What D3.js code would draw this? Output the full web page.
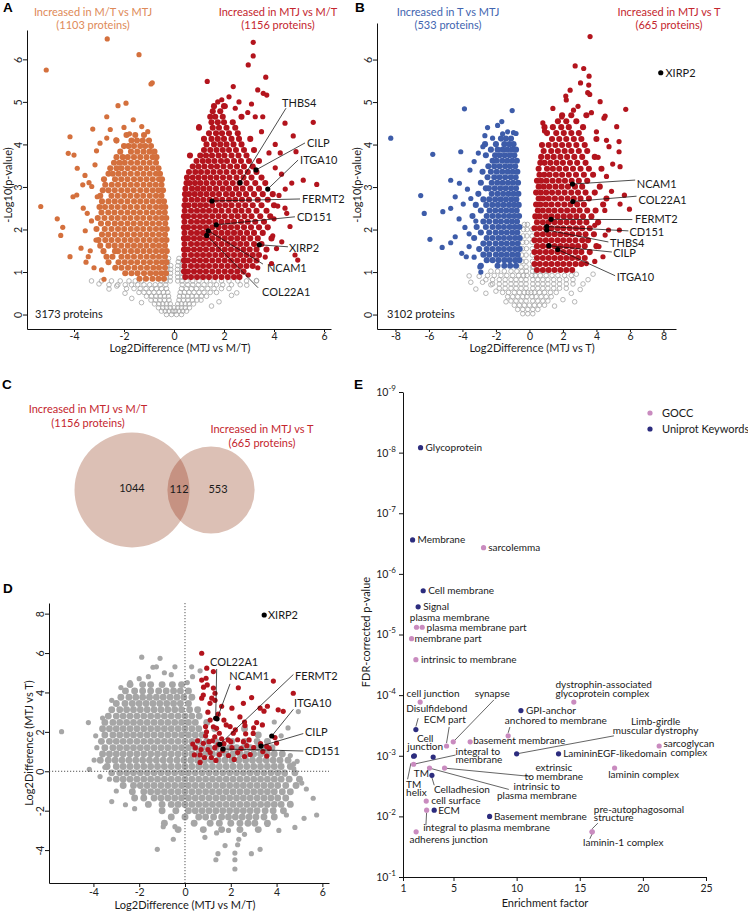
<!DOCTYPE html>
<html><head><meta charset="utf-8">
<script src="https://cdn.jsdelivr.net/npm/d3@7"></script>
<style>body{margin:0;background:#fff}</style>
</head><body>
<script>
// ================= DATA =================
// ---- Panel A: volcano MTJ vs M/T  (rows: [y, x1, x2, ...]) ----
const aXTicks = [-4,-2,0,2,4,6];
const aYTicks = [0,1,2,3,4,5,6];
const aGreyRows = [
[0.0,-0.3,-0.1,0.1,0.3],
[0.08,-0.5,-0.35,-0.2,-0.05,0.05,0.2,0.35,0.5],
[0.16,-0.62,-0.45,-0.3,-0.15,0,0.15,0.3,0.45,0.62],
[0.25,-0.78,-0.6,-0.45,-0.3,-0.15,0.15,0.3,0.45,0.6,0.78],
[0.34,-0.92,-0.74,-0.56,-0.38,-0.2,0.2,0.38,0.56,0.74,0.92,1.08],
[0.43,-1.1,-0.9,-0.72,-0.55,-0.38,-0.22,0.22,0.38,0.55,0.72,0.9,1.1,1.3],
[0.52,-1.4,-1.2,-1.0,-0.8,-0.6,-0.42,-0.25,0.25,0.42,0.6,0.8,1.0,1.2,1.45,1.7],
[0.61,-1.9,-1.6,-1.35,-1.12,-0.9,-0.7,-0.5,-0.3,0.3,0.5,0.7,0.9,1.12,1.35,1.6,1.9,2.2],
[0.7,-2.6,-2.25,-1.95,-1.7,-1.45,-1.2,-0.97,-0.75,-0.55,-0.33,0.33,0.55,0.75,0.97,1.2,1.45,1.7,1.95,2.3,2.65],
[0.79,-3.3,-2.9,-2.5,-2.15,-1.8,-1.55,-1.3,-0.52,-0.32,-0.15,0.15,0.32,0.52,0.75,1.0,1.3,1.6,1.9,2.2,2.55,2.9,3.3],
[0.88,-0.3,-0.15,0.15,0.32],
[0.97,-0.3,-0.14,0.14,0.32],
[1.06,-0.28,-0.13,0.14,0.33],
[1.15,-0.27,-0.13,0.15,0.34],
[1.24,-0.25,0.17,0.35],
[1.32,-0.22,0.2]
];
const aGreyOut = [[-2.29,0.67],[-1.96,0.5],[-1.69,0.38],[2.51,0.51],[2.91,0.69],[2.3,0.45],[1.8,0.3],[-3.0,0.72],[3.3,0.8],[-2.6,0.6],[-1.3,0.28],[1.5,0.2]];
const aOrangeRows = [
[0.84,-1.38,-1.12,-0.86,-0.62,-0.4],
[0.97,-1.95,-1.7,-1.46,-1.2,-0.95,-0.72,-0.5,-0.32],
[1.1,-2.35,-2.1,-1.84,-1.58,-1.33,-1.08,-0.83,-0.6,-0.36],
[1.23,-2.62,-2.22,-1.97,-1.72,-1.47,-1.21,-0.96,-0.71,-0.48,-0.3],
[1.36,-2.7,-2.46,-2.1,-1.85,-1.6,-1.34,-1.09,-0.84,-0.6,-0.36],
[1.49,-2.82,-2.36,-2.24,-1.98,-1.72,-1.47,-1.22,-0.97,-0.72,-0.48,-0.29],
[1.62,-2.95,-2.62,-2.37,-2.11,-1.85,-1.6,-1.35,-1.1,-0.84,-0.6,-0.36],
[1.75,-3.02,-2.75,-2.5,-2.24,-1.98,-1.73,-1.48,-1.22,-0.97,-0.72,-0.48,-0.3],
[1.88,-2.88,-2.63,-2.37,-2.11,-1.86,-1.6,-1.35,-1.1,-0.85,-0.6,-0.36],
[2.01,-3.1,-2.77,-2.5,-2.24,-1.99,-1.73,-1.48,-1.23,-0.97,-0.72,-0.48,-0.29],
[2.14,-2.92,-2.64,-2.37,-2.12,-1.86,-1.61,-1.35,-1.1,-0.85,-0.6,-0.35],
[2.27,-3.05,-2.78,-2.5,-2.25,-1.99,-1.74,-1.48,-1.23,-0.97,-0.72,-0.48,-0.31],
[2.4,-2.9,-2.63,-2.38,-2.12,-1.86,-1.61,-1.36,-1.1,-0.85,-0.6,-0.37],
[2.53,-2.98,-2.76,-2.5,-2.25,-1.99,-1.74,-1.48,-1.22,-0.97,-0.72,-0.5,-0.35],
[2.66,-2.88,-2.62,-2.37,-2.12,-1.86,-1.6,-1.35,-1.1,-0.85,-0.6,-0.4],
[2.79,-2.95,-2.5,-2.25,-1.99,-1.74,-1.48,-1.23,-0.97,-0.72,-0.5],
[2.92,-2.85,-2.62,-2.37,-2.11,-1.86,-1.61,-1.35,-1.1,-0.85,-0.62,-0.44],
[3.05,-2.75,-2.49,-2.24,-1.98,-1.73,-1.48,-1.22,-0.97,-0.73,-0.5],
[3.18,-2.8,-2.36,-2.11,-1.86,-1.6,-1.35,-1.1,-0.85,-0.6,-0.48],
[3.31,-2.62,-2.45,-2.22,-1.98,-1.73,-1.47,-1.22,-0.97,-0.72,-0.56],
[3.44,-2.55,-2.3,-2.1,-1.85,-1.6,-1.35,-1.1,-0.85,-0.62],
[3.57,-2.4,-2.18,-1.97,-1.72,-1.47,-1.22,-0.97,-0.72],
[3.7,-2.3,-2.05,-1.85,-1.6,-1.35,-1.1,-0.85,-0.7],
[3.83,-2.15,-1.72,-1.47,-1.22,-0.98,-0.78],
[3.96,-2.0,-1.82,-1.6,-1.35,-1.15,-0.92],
[4.09,-2.3,-1.7,-1.48,-1.25,-1.0],
[4.22,-1.9,-1.55,-1.2]
];
const aOrangeOut = [[-2.67,6.48],[-1.4,6.11],[-5.11,5.75],[-0.87,5.45],[-0.92,5.42],[-2.24,4.91],[-1.92,4.97],[-2.69,4.65],[-3.25,4.36],[-4.16,4.18],[-4.23,3.79],[-4.0,3.75],[-3.87,3.44],[-3.56,3.27],[-4.04,2.77],[-3.89,2.81],[-5.33,2.54],[-4.67,2.25],[-4.45,2.05],[-4.53,1.86],[-4.16,1.36],[-3.72,1.56],[-3.55,1.97],[-3.52,1.23],[-2.8,0.83],[-3.43,1.36],[-3.63,2.5],[-3.47,2.38],[-3.16,3.52],[-3.29,3.01],[-3.07,2.77],[-2.96,4.03],[-2.69,4.15],[-1.63,4.58],[-1.29,4.42],[-2.32,4.11],[-3.12,1.75],[-3.3,2.2],[-3.35,1.5],[-3.2,1.1],[-2.9,1.05],[-2.0,4.4],[-1.05,4.3],[-3.4,3.1],[-3.1,3.85],[-2.55,4.35],[-1.78,4.25],[-3.65,3.05]];
const aRedRows = [
[0.88,0.45,0.68,0.92,1.16,1.4,1.65,1.9,2.15,2.4,2.62],
[1.01,0.4,0.56,0.8,1.04,1.28,1.53,1.78,2.03,2.28,2.53,2.78],
[1.14,0.42,0.68,0.92,1.16,1.4,1.65,1.9,2.15,2.4,2.65,2.9,3.15],
[1.27,0.4,0.56,0.8,1.04,1.28,1.53,1.78,2.03,2.28,2.53,2.78,3.03,3.3],
[1.4,0.42,0.68,0.92,1.16,1.4,1.65,1.9,2.15,2.4,2.65,2.9,3.15,3.4],
[1.53,0.4,0.56,0.8,1.04,1.28,1.53,1.78,2.03,2.28,2.53,2.78,3.03,3.3,3.7],
[1.66,0.42,0.68,0.92,1.16,1.4,1.65,1.9,2.15,2.4,2.65,2.9,3.2,3.5],
[1.79,0.4,0.56,0.8,1.04,1.28,1.53,1.78,2.03,2.28,2.53,2.78,3.05,3.35,3.9],
[1.92,0.42,0.68,0.92,1.16,1.4,1.65,1.9,2.15,2.4,2.65,2.92,3.2,3.55],
[2.05,0.4,0.56,0.8,1.04,1.28,1.53,1.78,2.03,2.28,2.53,2.8,3.08,3.4,3.75],
[2.18,0.42,0.68,0.92,1.16,1.4,1.65,1.9,2.15,2.4,2.68,2.95,3.25,3.6],
[2.31,0.4,0.56,0.8,1.04,1.28,1.53,1.78,2.03,2.3,2.55,2.82,3.1,3.45,3.85],
[2.44,0.43,0.68,0.92,1.16,1.4,1.65,1.9,2.18,2.45,2.7,2.98,3.3,3.7],
[2.57,0.42,0.58,0.82,1.05,1.28,1.53,1.8,2.05,2.3,2.58,2.85,3.15,3.5,4.0],
[2.7,0.45,0.7,0.93,1.17,1.42,1.68,1.93,2.2,2.45,2.72,3.0,3.35,3.75],
[2.83,0.44,0.6,0.83,1.06,1.3,1.55,1.8,2.08,2.33,2.6,2.88,3.2,3.55,3.95],
[2.96,0.46,0.72,0.95,1.18,1.42,1.68,1.95,2.2,2.48,2.75,3.05,3.4],
[3.09,0.5,0.62,0.84,1.06,1.3,1.56,1.82,2.08,2.35,2.62,2.9,3.25,3.65],
[3.22,0.52,0.75,0.98,1.22,1.46,1.7,1.96,2.22,2.5,2.78,3.1,3.5],
[3.35,0.6,0.85,1.08,1.33,1.58,1.84,2.1,2.38,2.65,2.95,3.3],
[3.48,0.75,0.98,1.22,1.48,1.72,1.98,2.25,2.52,2.8,3.15],
[3.61,0.9,1.15,1.38,1.62,1.88,2.12,2.4,2.68,3.0,3.4],
[3.74,0.64,1.05,1.28,1.52,1.78,2.02,2.3,2.58,2.9],
[3.87,1.2,1.45,1.7,1.95,2.2,2.48,2.8,3.2],
[4.0,1.3,1.6,1.85,2.1,2.38,2.7],
[4.13,1.2,1.5,1.75,2.0,2.3,2.6,3.05],
[4.26,1.4,1.68,1.92,2.2,2.55],
[4.39,1.0,1.55,1.8,2.1,2.45],
[4.52,1.5,1.75,2.0,2.35],
[4.65,1.45,1.65,1.95,2.7],
[4.78,1.55,1.85],
[4.9,1.6,2.0]
];
const aRedOut = [[3.17,6.4],[3.17,6.08],[2.97,5.87],[1.33,5.48],[3.67,5.58],[2.37,5.36],[3.35,5.28],[3.57,5.2],[3.71,5.16],[2.2,5.12],[1.91,5.05],[5.57,4.52],[4.44,4.5],[4.77,4.2],[4.88,3.83],[5.17,3.16],[5.71,3.06],[4.71,3.09],[4.44,2.5],[4.51,2.38],[4.64,2.07],[4.31,1.71],[4.84,1.4],[4.95,1.28],[1.0,4.42],[2.97,0.93],[3.9,1.2],[4.1,1.55],[4.0,2.25],[4.2,2.8],[4.3,3.3],[3.8,3.8],[4.05,4.0],[3.5,4.3],[3.25,4.65],[2.95,4.75],[3.1,4.95],[2.6,5.0],[2.45,4.85],[3.55,4.65],[4.05,3.45],[4.45,2.95],[4.15,2.55],[3.95,1.85],[3.65,1.35],[3.35,1.1],[4.25,3.8],[1.75,5.0],[2.05,4.9]];
const aNamed = [["THBS4",2.64,3.10],["CILP",3.28,3.40],["ITGA10",3.75,2.95],["FERMT2",1.52,2.67],["CD151",1.69,2.11],["XIRP2",3.41,1.64],["NCAM1",1.37,1.97],["COL22A1",1.31,1.86]];

// ---- Panel B: volcano MTJ vs T ----
const bXTicks = [-8,-6,-4,-2,0,2,4,6,8];
const bYTicks = [0,1,2,3,4,5,6];
const bGreyRows = [
[0.02,-0.4,-0.1,0.2],
[0.12,-0.7,-0.4,-0.1,0.2,0.5],
[0.22,-0.9,-0.6,-0.3,0,0.3,0.6,0.9],
[0.32,-1.1,-0.8,-0.5,-0.2,0.2,0.5,0.8,1.1],
[0.42,-1.3,-1.0,-0.7,-0.4,-0.15,0.15,0.4,0.7,1.0,1.3],
[0.52,-1.6,-1.25,-0.9,-0.6,-0.3,-0.1,0.1,0.3,0.6,0.9,1.25,1.6],
[0.62,-1.8,-1.45,-1.1,-0.8,-0.5,-0.2,0.2,0.5,0.8,1.1,1.45,1.8,2.2],
[0.72,-2.2,-1.8,-1.45,-1.1,-0.8,-0.5,-0.2,0.2,0.5,0.8,1.1,1.45,1.8,2.2,2.6],
[0.82,-2.6,-2.2,-1.8,-1.45,-1.1,-0.8,-0.5,-0.2,0.2,0.5,0.8,1.1,1.45,1.8,2.2,2.6],
[0.92,-2.5,-2.1,-1.7,-1.35,-1.0,-0.65,-0.35,-0.15,0.15,0.35,0.65,1.0,1.35,1.7,2.1,2.5],
[1.02,-2.3,-1.9,-1.5,-1.1,-0.75,-0.45,-0.18,0.18,0.4,0.75,1.1],
[1.12,-0.5,-0.2,0.18,0.25],
[1.25,-0.45,-0.2,0.18],
[1.4,-0.45,-0.2,0.17],
[1.55,-0.42,-0.18,0.17],
[1.7,-0.4,-0.18,0.16],
[1.85,-0.38,-0.15,0.16],
[2.0,-0.35,-0.14,0.15],
[2.12,-0.3,-0.12]
];
const bGreyOut = [[-3.6,0.91],[-3.5,0.76],[-3.0,0.9],[-2.8,0.76],[-2.3,0.7],[-2.0,0.55],[-1.4,0.3],[1.5,0.2],[2.5,0.5],[3.03,0.59],[3.5,0.82],[2.8,0.95],[3.2,0.72],[2.0,0.35],[-3.2,0.6],[-2.6,0.5],[2.7,0.3],[3.8,0.95]];
const bBlueRows = [
[1.15,-2.9,-1.9,-1.5,-1.15,-0.8],
[1.28,-2.55,-2.2,-1.85,-1.5,-1.18,-0.85,-0.6],
[1.41,-2.75,-2.4,-2.0,-1.68,-1.35,-1.02,-0.7],
[1.54,-3.0,-2.55,-2.2,-1.85,-1.52,-1.18,-0.86,-0.58],
[1.67,-2.75,-2.4,-2.02,-1.68,-1.35,-1.02,-0.7],
[1.8,-3.3,-2.55,-2.2,-1.85,-1.52,-1.18,-0.86,-0.58],
[1.93,-2.9,-2.4,-2.02,-1.68,-1.35,-1.02,-0.72],
[2.06,-3.15,-2.6,-2.2,-1.85,-1.52,-1.18,-0.88,-0.6],
[2.19,-2.75,-2.4,-2.02,-1.7,-1.35,-1.04,-0.74],
[2.32,-3.4,-2.55,-2.2,-1.86,-1.52,-1.2,-0.9,-0.62],
[2.45,-2.9,-2.38,-2.04,-1.7,-1.38,-1.06,-0.76],
[2.58,-3.2,-2.58,-2.22,-1.88,-1.55,-1.22,-0.92,-0.64],
[2.71,-2.75,-2.4,-2.05,-1.72,-1.4,-1.08,-0.78],
[2.84,-3.05,-2.25,-1.9,-1.57,-1.25,-0.95,-0.66],
[2.97,-2.6,-2.42,-2.07,-1.74,-1.42,-1.1,-0.8],
[3.1,-2.9,-2.25,-1.92,-1.6,-1.28,-0.98,-0.68],
[3.23,-2.5,-2.1,-1.78,-1.45,-1.12,-0.82],
[3.36,-2.8,-2.3,-1.95,-1.62,-1.3,-1.0,-0.72],
[3.49,-2.45,-2.1,-1.78,-1.45,-1.15,-0.85],
[3.62,-2.2,-1.95,-1.62,-1.32,-1.02,-0.75],
[3.75,-2.6,-2.05,-1.78,-1.48,-1.18,-0.9],
[3.88,-2.3,-1.9,-1.6,-1.32,-1.05,-0.8],
[4.01,-2.65,-2.0,-1.5,-1.2,-0.95],
[4.14,-1.7,-1.4,-1.1]
];
const bBlueOut = [[-8.28,4.15],[-3.88,4.84],[-1.03,4.8],[-1.65,4.54],[-5.77,3.77],[-4.1,3.83],[-2.66,4.21],[-2.78,3.95],[-1.6,4.25],[-1.3,4.3],[-0.95,4.28],[-0.8,4.26],[-6.49,2.8],[-6.28,2.38],[-5.17,2.42],[-4.7,3.16],[-4.18,3.09],[-5.94,1.77],[-5.21,1.58],[-4.7,2.5],[-4.43,2.77],[-3.5,2.73],[-3.95,2.6],[-3.7,2.95],[-4.7,1.69],[-4.43,1.83],[-4.04,1.44],[-3.77,1.36],[-3.6,1.6],[-2.96,1.12],[-2.9,1.0],[-3.55,3.4],[-3.3,3.6],[-3.05,3.8],[-3.2,2.2],[-3.85,2.05],[-3.6,1.9],[-4.2,2.25],[-3.3,1.35],[-2.5,4.4],[-2.2,4.15],[-1.9,4.45]];
const bRedRows = [
[1.05,0.45,0.8,1.15,1.5,1.85,2.2,2.55],
[1.19,0.3,0.62,0.98,1.32,1.68,2.02,2.38,2.75,3.1],
[1.33,0.45,0.8,1.15,1.5,1.85,2.2,2.55,2.9,3.3],
[1.47,0.3,0.62,0.98,1.32,1.68,2.02,2.38,2.75,3.1,3.6],
[1.61,0.45,0.8,1.15,1.5,1.85,2.2,2.55,2.9,3.3,4.0],
[1.75,0.3,0.62,0.98,1.32,1.68,2.02,2.38,2.75,3.15,3.5],
[1.89,0.45,0.8,1.15,1.5,1.85,2.2,2.55,2.95,3.35,3.85],
[2.03,0.3,0.62,0.98,1.32,1.68,2.02,2.4,2.78,3.15,3.6],
[2.17,0.45,0.8,1.15,1.5,1.85,2.22,2.6,3.0,3.4,4.1],
[2.31,0.35,0.62,0.98,1.32,1.68,2.05,2.42,2.8,3.2,3.7],
[2.45,0.5,0.8,1.15,1.5,1.88,2.25,2.62,3.0,3.45,3.95],
[2.59,0.4,0.65,0.98,1.32,1.7,2.08,2.45,2.85,3.25,4.4],
[2.73,0.55,0.82,1.15,1.52,1.9,2.28,2.65,3.05,3.55,4.6],
[2.87,0.4,0.68,1.0,1.35,1.72,2.1,2.5,2.9,3.35,3.9],
[3.01,0.55,0.85,1.18,1.55,1.92,2.3,2.72,3.15,4.2],
[3.15,0.45,0.7,1.02,1.38,1.75,2.12,2.52,2.95,3.45],
[3.29,0.6,0.88,1.2,1.58,1.95,2.35,2.78,3.25,3.8],
[3.43,0.55,1.05,1.4,1.78,2.18,2.6,3.05,3.55,4.3],
[3.57,0.65,0.9,1.25,1.62,2.0,2.42,2.85,3.35],
[3.71,0.7,1.08,1.45,1.85,2.25,2.68,3.15,3.9],
[3.85,0.85,1.3,1.7,2.1,2.5,2.95,3.45],
[3.99,0.75,1.15,1.55,1.95,2.35,2.8,3.3],
[4.13,1.35,1.78,2.2,2.65,3.1,4.0],
[4.27,1.05,1.6,2.05,2.5,2.95],
[4.41,0.9,1.4,1.9,2.35,3.2],
[4.55,1.7,2.2,2.8],
[4.69,1.95,2.5,3.4]
];
const bRedOut = [[3.62,6.54],[2.73,5.85],[3.24,5.79],[3.56,5.61],[3.54,5.4],[2.43,5.28],[3.48,5.22],[3.6,5.18],[2.17,5.14],[2.2,5.05],[2.63,4.81],[4.22,5.01],[5.75,4.83],[4.52,4.67],[4.45,4.62],[5.21,4.42],[0.8,4.51],[0.9,4.32],[1.93,4.65],[5.35,4.07],[5.35,3.83],[5.41,3.48],[4.97,3.54],[5.67,2.81],[5.97,2.48],[5.41,2.6],[4.72,1.99],[5.37,1.99],[4.52,1.87],[4.39,1.36],[3.4,1.2],[4.0,4.3],[4.6,4.1],[3.7,4.75],[4.1,3.7],[4.6,3.25],[4.9,2.9],[4.5,2.45],[3.9,2.1],[4.15,1.6],[3.9,1.25],[2.9,4.9],[1.4,4.85],[3.05,5.45],[4.75,3.95]];
const bNamed = [["XIRP2",7.84,5.69],["NCAM1",2.57,3.07],["COL22A1",2.59,2.66],["FERMT2",1.29,2.24],["CD151",1.03,2.07],["THBS4",1.03,1.99],["CILP",1.16,1.62],["ITGA10",1.69,1.53]];

// ---- Panel C: Venn ----
const vennSetNames = ["Increased in MTJ vs M/T","Increased in MTJ vs T"];
const vennSetSizes = [1156, 665];
const vennRegionCounts = [1044, 112, 553];

// ---- Panel D: MTJ vs M/T (x) against MTJ vs T (y) ----
const dXTicks = [-4,-2,0,2,4,6];
const dYTicks = [-4,-2,0,2,4,6,8];
const dGreyRows = [
[4.4,-2.4,-1.85,-1.5,-1.0,-0.55,-0.15],
[4.08,-2.6,-2.2,-1.85,-1.5,-1.15,-0.82,-0.5,-0.2,0.15],
[3.76,-2.8,-2.45,-2.15,-1.85,-1.55,-1.25,-0.95,-0.65,-0.35,-0.05,0.3],
[3.44,-3.0,-2.62,-2.3,-2.0,-1.7,-1.4,-1.1,-0.8,-0.5,-0.2,0.15],
[3.12,-3.2,-2.85,-2.55,-2.25,-1.95,-1.65,-1.35,-1.05,-0.75,-0.45,-0.15,0.2,0.55],
[2.8,-3.35,-3.0,-2.7,-2.4,-2.1,-1.8,-1.5,-1.2,-0.9,-0.6,-0.3,0.0,0.3,0.62],
[2.48,-3.5,-3.15,-2.85,-2.55,-2.25,-1.95,-1.65,-1.35,-1.05,-0.75,-0.45,-0.15,0.15,0.45,0.95],
[2.16,-3.6,-3.3,-3.0,-2.7,-2.4,-2.1,-1.8,-1.5,-1.2,-0.9,-0.6,-0.3,0.0,0.3,0.6,1.3,2.6],
[1.84,-3.5,-3.15,-2.85,-2.55,-2.25,-1.95,-1.65,-1.35,-1.05,-0.75,-0.45,-0.15,0.15,0.45,0.75,3.2],
[1.52,-3.65,-3.3,-3.0,-2.7,-2.4,-2.1,-1.8,-1.5,-1.2,-0.9,-0.6,-0.3,0.0,0.3,0.6,0.95,1.35,2.05,2.6,3.15,3.6],
[1.2,-3.5,-3.15,-2.85,-2.55,-2.25,-1.95,-1.65,-1.35,-1.05,-0.75,-0.45,-0.15,0.15,0.45,0.75,1.05,1.35,1.65,1.95,2.25,2.55,2.85,3.15,3.45,3.8],
[0.88,-3.6,-3.3,-3.0,-2.7,-2.4,-2.1,-1.8,-1.5,-1.2,-0.9,-0.6,-0.3,0.0,0.3,0.6,0.9,1.2,1.5,1.8,2.1,2.4,2.7,3.0,3.3,3.6,3.9,4.25],
[0.56,-3.7,-3.35,-3.05,-2.75,-2.45,-2.15,-1.85,-1.55,-1.25,-0.95,-0.65,-0.35,-0.05,0.25,0.55,0.85,1.15,1.45,1.75,2.05,2.35,2.65,2.95,3.25,3.55,3.85,4.15,4.5],
[0.24,-3.4,-3.0,-2.7,-2.4,-2.1,-1.8,-1.5,-1.2,-0.9,-0.6,-0.3,0.0,0.3,0.6,0.9,1.2,1.5,1.8,2.1,2.4,2.7,3.0,3.3,3.6,3.9,4.2,4.6],
[-0.08,-3.2,-2.85,-2.55,-2.25,-1.95,-1.65,-1.35,-1.05,-0.75,-0.45,-0.15,0.15,0.45,0.75,1.05,1.35,1.65,1.95,2.25,2.55,2.85,3.15,3.45,3.75,4.05,4.35,4.8],
[-0.4,-3.0,-2.7,-2.4,-2.1,-1.8,-1.5,-1.2,-0.9,-0.6,-0.3,0.0,0.3,0.6,0.9,1.2,1.5,1.8,2.1,2.4,2.7,3.0,3.3,3.6,3.9,4.2,4.55,5.0],
[-0.72,-2.7,-2.25,-1.95,-1.65,-1.35,-1.05,-0.75,-0.45,-0.15,0.15,0.45,0.75,1.05,1.35,1.65,1.95,2.25,2.55,2.85,3.15,3.45,3.75,4.05,4.4,4.85],
[-1.04,-2.3,-1.8,-1.5,-1.2,-0.9,-0.6,-0.3,0.0,0.3,0.6,0.9,1.2,1.5,1.8,2.1,2.4,2.7,3.0,3.3,3.6,3.9,4.25,4.6],
[-1.36,-2.2,-1.8,-1.35,-1.05,-0.75,-0.45,-0.15,0.15,0.45,0.75,1.05,1.35,1.65,1.95,2.25,2.55,2.85,3.15,3.45,3.75,4.05,4.4],
[-1.68,-1.6,-1.0,-0.6,-0.3,0.0,0.3,0.6,0.9,1.2,1.5,1.8,2.1,2.4,2.7,3.0,3.3,3.6,3.9,4.2,4.6],
[-2.0,-1.0,-0.4,0.15,0.45,0.75,1.05,1.35,1.65,1.95,2.25,2.55,2.85,3.15,3.5,3.85,4.3],
[-2.32,-0.6,0.0,0.6,0.9,1.25,1.6,1.9,2.2,2.5,2.8,3.1,3.45,3.9],
[-2.64,-0.9,0.4,1.1,1.5,2.0,2.4,2.75,3.05,3.6],
[-2.96,-0.3,0.8,1.6,2.4,3.2]
];
const dGreyOut = [[-5.39,2.01],[-4.22,2.47],[-4.18,0.1],[-3.97,0.57],[-3.71,-0.27],[-3.5,0.2],[-3.3,-0.4],[-3.2,-1.54],[-3.0,-1.0],[-2.6,-1.7],[-2.2,-1.9],[-1.89,5.79],[-1.09,5.73],[-1.4,5.28],[-1.25,5.3],[-0.44,5.3],[0.29,5.3],[0.33,4.8],[0.66,5.1],[-0.95,-2.81],[-0.44,-2.81],[-0.51,-3.45],[-1.21,-3.96],[0.87,-3.35],[1.38,-3.13],[1.75,-3.77],[1.44,-4.18],[1.35,-4.49],[2.18,-4.15],[2.18,-4.49],[2.18,-4.96],[2.9,-4.18],[3.28,-3.96],[2.3,-3.73],[2.35,-3.45],[1.9,-3.0],[2.6,-3.2],[4.43,-2.22],[4.8,-2.85],[5.2,-2.39],[5.6,-1.37],[5.75,-2.22],[4.6,-1.63],[4.75,0.38],[4.75,0.13],[4.37,-0.14],[4.95,3.03],[5.1,-0.6],[5.3,-0.9],[-1.6,4.8],[-2.0,4.7],[-2.4,4.5],[-0.6,4.9],[-2.8,4.25],[-3.2,3.6],[-3.6,2.7],[-3.9,1.8],[-3.85,1.2],[3.9,2.5],[4.5,2.2],[4.2,1.8],[4.6,0.8],[4.9,0.5],[-0.9,5.0],[0.1,4.5],[4.1,-3.0],[3.6,-2.7]];
const dRed = [[0.73,5.99],[0.92,4.72],[0.81,4.27],[1.24,4.22],[1.17,3.71],[2.33,4.24],[2.91,3.74],[3.86,4.58],[4.73,3.96],[3.28,3.2],[3.45,3.05],[3.6,3.3],[4.07,3.12],[4.29,3.04],[2.4,2.76],[3.13,2.47],[3.38,2.35],[2.62,2.32],[1.97,2.27],[1.38,2.18],[0.9,2.27],[2.98,1.92],[0.34,1.38],[0.41,0.83],[0.66,0.45],[3.57,1.26],[3.68,1.16],[3.57,0.77],[3.93,1.71],[4.0,1.43],[0.95,5.23],[1.24,5.06],[0.73,4.63],[0.97,4.38],[1.31,3.96],[0.73,3.71],[0.8,3.87],[1.09,3.45],[1.31,3.6],[1.7,2.6],[1.1,2.6],[1.24,2.26],[0.94,2.0],[2.11,1.93],[1.5,1.93],[1.89,1.59],[2.3,1.6],[2.55,1.5],[2.8,1.59],[0.8,1.42],[1.0,1.1],[1.3,1.2],[1.65,1.05],[2.05,1.2],[2.3,0.95],[0.66,0.83],[0.85,0.7],[1.1,0.95],[1.5,0.85],[1.9,0.8],[2.6,0.75],[1.2,1.55],[1.45,1.35],[1.7,1.4],[2.0,1.5],[0.9,1.8],[1.3,1.75],[1.6,1.65],[0.55,1.55],[0.45,1.2],[0.7,1.1],[1.15,0.7],[1.35,0.55],[2.15,0.6],[2.45,1.15],[2.7,1.3],[3.0,1.2],[3.3,1.4],[3.4,1.0],[2.85,0.85],[1.8,2.35],[2.6,2.5],[2.2,2.1],[3.0,2.2],[1.45,2.9],[1.0,3.0],[2.05,3.2],[2.55,3.45],[1.6,3.3],[2.65,1.9],[1.05,1.5]];
const dNamed = [["XIRP2",3.46,7.93],["COL22A1",1.34,2.69],["NCAM1",1.40,2.66],["FERMT2",1.52,1.37],["ITGA10",3.79,1.79],["CILP",3.32,1.28],["CD151",1.66,1.13]];

// ---- Panel E: enrichment ----
const eXTicks = [1,5,10,15,20,25];
const eYTicks = [1e-9,1e-8,1e-7,1e-6,1e-5,1e-4,1e-3,1e-2,1e-1];
const uniTerms  = ["Glycoprotein","Membrane","Cell membrane","Signal","Disulfidebond","GPI-anchor","Cell junction","TM helix","TM","LamininEGF-likedomain","Limb-girdle muscular dystrophy","Celladhesion","ECM","Basement membrane"];
const uniEnrich = [2.39,1.76,2.6,2.2,2.02,10.34,3.39,1.84,1.9,13.32,10.0,3.29,3.47,7.86];
const uniP      = [8.3e-9,2.75e-7,1.9e-6,3.5e-6,3.7e-4,1.8e-4,1.05e-3,1.02e-3,1.0e-3,9.3e-4,9.3e-4,2.1e-3,7.9e-3,1.0e-2];
const goTerms  = ["sarcolemma","plasma membrane","plasma membrane part","membrane part","intrinsic to membrane","cell junction","dystrophin-associated glycoprotein complex","anchored to membrane","basement membrane","synapse","ECM part","sarcoglycan complex","integral to membrane","extrinsic to membrane","intrinsic to plasma membrane","laminin complex","cell surface","integral to plasma membrane","laminin-1 complex","pre-autophagosomal structure","adherens junction"];
const goEnrich = [7.38,2.07,2.52,1.68,2.02,2.36,14.53,9.33,6.32,4.98,4.45,21.29,1.84,4.29,3.1,17.76,2.84,2.87,15.98,15.98,2.04];
const goP      = [3.7e-7,7.6e-6,7.6e-6,1.17e-5,2.6e-5,1.3e-4,1.3e-4,4.7e-4,5.9e-4,5.9e-4,6.9e-4,6.9e-4,1.38e-3,1.6e-3,1.6e-3,1.6e-3,5.6e-3,7.9e-3,1.8e-2,1.8e-2,1.8e-2];

// ================= LAYOUT / STYLE =================
const FONT = 'Lato, "Open Sans", "Liberation Sans", sans-serif';
const C = {orange:'#d4703d', orangeT:'#de8a58', red:'#b3141d', redT:'#c4262e', blue:'#3d5ca9', blueT:'#4265b0',
  grey:'#a4a4a4', gocc:'#c98bbf', uni:'#2c2c7e', venn:'#dcc0b5', vennO:'#c69282'};
const R_DOT = 2.6, R_DENSE = 3.05, R_DENSE_D = 3.45;
// label offsets (px, relative to the point): [textDx, textDy, leaderEndDx, leaderEndDy]
const aLab = {THBS4:[42,-75.7,46,-74.5],CILP:[51,-23,49,-27],ITGA10:[32.3,-25,30.3,-29],FERMT2:[90,2,88,-2],
  CD151:[80.7,-4,78.7,-8],XIRP2:[29.7,7,28.7,2],NCAM1:[58.7,41.3,54.7,33.3],COL22A1:[55.3,60.3,51.3,52.3]};
const bLab = {XIRP2:[4.7,3.8,null,null],NCAM1:[64.3,4,62.7,-4],COL22A1:[65.7,2,63.7,-5.3],FERMT2:[84,3.7,81.3,0.2],
  CD151:[82.7,9.8,81.7,4.3],THBS4:[63.4,17,61.7,12],CILP:[64.3,11.3,63,6.3],ITGA10:[59,31.2,57.4,26.2]};
const dLab = {XIRP2:[3.7,4,null,null],COL22A1:[-5.7,-52.3,1,-49.3],NCAM1:[12.3,-38.5,13,-35],FERMT2:[75.3,-63.8,73.6,-69.8],
  ITGA10:[22.3,-29,21.6,-26.7],CILP:[44,-10.5,42.3,-12.5],CD151:[82,6,80.3,2]};
const eLab = {
 "Glycoprotein":{dx:5,dy:3.5},"Membrane":{dx:5,dy:3.5},"Cell membrane":{dx:5,dy:3.5},"Signal":{dx:5,dy:3.5},
 "Disulfidebond":{dx:-9.7,dy:-17.4,ln:[2.3,-11.4,0,-3]},"GPI-anchor":{dx:5,dy:3.5},
 "Cell junction":{dx:-8,dy:-15.5,anchor:'middle',lines:['Cell','junction'],lead:8.6},
 "TM helix":{dx:-7.5,dy:31.5,lines:['TM','helix'],lead:8.6,ln:[-2.7,7,-6,23]},
 "TM":{dx:-0.5,dy:21.5},
 "LamininEGF-likedomain":{dx:4.6,dy:3.5},
 "Limb-girdle muscular dystrophy":{dx:139,dy:-28.5,anchor:'middle',lines:['Limb-girdle','muscular dystrophy'],lead:8.6,ln:[0,0,97.3,-18]},
 "Celladhesion":{dx:2,dy:17.8,ln:[0,2.3,2.3,10]},"ECM":{dx:4,dy:3.5},"Basement membrane":{dx:4.3,dy:3.5},
 "sarcolemma":{dx:4.6,dy:3.5},"plasma membrane":{dx:-6.7,dy:-6.2},"plasma membrane part":{dx:4.4,dy:3.4},
 "membrane part":{dx:3,dy:3.4},"intrinsic to membrane":{dx:5,dy:3},"cell junction":{dx:-13.6,dy:-5},
 "dystrophin-associated glycoprotein complex":{dx:-18.3,dy:-14,lines:['dystrophin-associated','glycoprotein complex'],lead:8.6},
 "anchored to membrane":{dx:-3.3,dy:-12,ln:[1.7,-8.8,0,-3]},"basement membrane":{dx:3,dy:2},
 "synapse":{dx:21.4,dy:-44.7,ln:[0,0,40.7,-42]},"ECM part":{dx:-22.7,dy:-23.4,ln:[2.6,-19,0,-3]},
 "sarcoglycan complex":{dx:29.7,dy:1,anchor:'middle',lines:['sarcoglycan','complex'],lead:8.6},
 "integral to membrane":{dx:42,dy:-9.6,lines:['integral to','membrane'],lead:8.4,ln:[0,0,42,-9.2]},
 "extrinsic to membrane":{dx:109.3,dy:3.3,anchor:'middle',lines:['extrinsic','to membrane'],lead:8.6,ln:[0,0,86,8.3]},
 "intrinsic to plasma membrane":{dx:107.3,dy:22,anchor:'middle',lines:['intrinsic to','plasma membrane'],lead:8.6,ln:[0,0,79.3,21.3]},
 "laminin complex":{dx:-6.4,dy:10.3},"cell surface":{dx:5,dy:3},
 "integral to plasma membrane":{dx:-3.4,dy:20.7,ln:[0,2.5,-0.7,15]},
 "laminin-1 complex":{dx:-9,dy:14,ln:[0,2,-2.3,7]},
 "pre-autophagosomal structure":{dx:1.7,dy:-19,lines:['pre-autophagosomal','structure'],lead:8.6,ln:[0,-3,5.7,-8.7]},
 "adherens junction":{dx:-6.6,dy:11.3}
};

// ================= DRAW =================
const svg = d3.select('body').append('svg').attr('width',748).attr('height',912)
  .style('font-family',FONT);
const expand = rows => rows.flatMap(r => r.slice(1).map(v => [v, r[0]]));

function txt(g,x,y,s,o={}){
  return g.append('text').attr('x',x).attr('y',y).text(s)
    .attr('font-size',o.size||11).attr('fill',o.fill||'#1a1a1a')
    .attr('text-anchor',o.anchor||'start').attr('font-weight',o.weight||null)
    .attr('font-family',o.family||FONT);
}
function panelLabel(x,y,s){ txt(svg,x,y,s,{size:13.5,weight:'bold',family:'"Liberation Sans", Arial, sans-serif',fill:'#000'}); }

function axes(g,x,y,o){
  const xAt = o.xAt ?? d3.max(y.range());
  const gx = g.append('g').attr('transform',`translate(0,${xAt})`)
    .call(d3.axisBottom(x).tickValues(o.xt).tickSize(o.xts||3).tickPadding(o.xp??1).tickSizeOuter(0).tickFormat(o.xf||(d=>String(d))));
  const gy = g.append('g').attr('transform',`translate(${x.range()[0]},0)`)
    .call(d3.axisLeft(y).tickValues(o.yt).tickSize(4).tickSizeOuter(0).tickFormat(o.yf||(d=>String(d))));
  [gx,gy].forEach(a=>{
    a.select('.domain').attr('stroke','#111').attr('stroke-width',1);
    a.selectAll('.tick line').attr('stroke','#111');
    a.selectAll('.tick text').attr('font-family',FONT).attr('font-size',10.5).attr('fill','#222');
  });
  if(o.rot) gy.selectAll('.tick text').attr('x',null).attr('dy',null).attr('text-anchor','middle')
      .attr('transform',`translate(${-o.rot},0) rotate(-90)`);
  return {gx,gy};
}
function dots(g,data,x,y,o){
  return g.append('g').selectAll('circle').data(data).join('circle')
    .attr('cx',d=>x(d[0])).attr('cy',d=>y(d[1])).attr('r',o.r||R_DOT)
    .attr('fill',o.fill||'none').attr('stroke',o.stroke||null).attr('stroke-width',o.sw||null);
}
function named(g,list,x,y,lab){
  list.forEach(([n,vx,vy])=>{
    const px=x(vx), py=y(vy), L=lab[n];
    if(L[2]!==null) g.append('line').attr('x1',px).attr('y1',py).attr('x2',px+L[2]).attr('y2',py+L[3])
       .attr('stroke','#111').attr('stroke-width',0.75);
    txt(g,px+L[0],py+L[1],n,{size:11});
  });
  dots(g,list.map(d=>[d[1],d[2]]),x,y,{fill:'#000',r:R_DOT});
}
function rotLabel(g,x,y,s,size){
  g.append('text').attr('transform',`translate(${x},${y}) rotate(-90)`).attr('text-anchor','middle')
   .attr('font-size',size||11).attr('fill','#1a1a1a').text(s);
}

// ---------- Panel A ----------
{
  const g = svg.append('g');
  const x = d3.scaleLinear().domain([-5.88,6.28]).range([27,331]);
  const y = d3.scaleLinear().domain([-0.34,6.69]).range([329,30]);
  axes(g,x,y,{xt:aXTicks,yt:aYTicks,rot:5});
  dots(g,expand(aGreyRows).concat(aGreyOut),x,y,{r:2.3,stroke:C.grey,sw:0.8});
  dots(g,expand(aOrangeRows),x,y,{fill:C.orange,r:R_DENSE});
  dots(g,aOrangeOut,x,y,{fill:C.orange});
  dots(g,expand(aRedRows),x,y,{fill:C.red,r:R_DENSE});
  dots(g,aRedOut,x,y,{fill:C.red});
  named(g,aNamed,x,y,aLab);
  txt(g,93,15.5,'Increased in M/T vs MTJ',{anchor:'middle',fill:C.orangeT});
  txt(g,93,28.5,'(1103 proteins)',{anchor:'middle',fill:C.orangeT});
  txt(g,278,15.5,'Increased in MTJ vs M/T',{anchor:'middle',fill:C.redT});
  txt(g,278,28.5,'(1156 proteins)',{anchor:'middle',fill:C.redT});
  txt(g,35,318,'3173 proteins');
  txt(g,180,352,'Log2Difference (MTJ vs M/T)',{anchor:'middle'});
  rotLabel(g,12,185,'-Log10(p-value)');
}
// ---------- Panel B ----------
{
  const g = svg.append('g');
  const x = d3.scaleLinear().domain([-9.1,8.75]).range([377,676]);
  const y = d3.scaleLinear().domain([-0.34,6.86]).range([329,23]);
  axes(g,x,y,{xt:bXTicks,yt:bYTicks,rot:5});
  dots(g,expand(bGreyRows).concat(bGreyOut),x,y,{r:2.3,stroke:C.grey,sw:0.8});
  dots(g,expand(bBlueRows),x,y,{fill:C.blue,r:R_DENSE});
  dots(g,bBlueOut,x,y,{fill:C.blue});
  dots(g,expand(bRedRows),x,y,{fill:C.red,r:R_DENSE});
  dots(g,bRedOut,x,y,{fill:C.red});
  named(g,bNamed,x,y,bLab);
  txt(g,448,15.5,'Increased in T vs MTJ',{anchor:'middle',fill:C.blueT});
  txt(g,448,28.5,'(533 proteins)',{anchor:'middle',fill:C.blueT});
  txt(g,669,15.5,'Increased in MTJ vs T',{anchor:'middle',fill:C.redT});
  txt(g,669,28.5,'(665 proteins)',{anchor:'middle',fill:C.redT});
  txt(g,387,318,'3102 proteins');
  txt(g,532,352,'Log2Difference (MTJ vs T)',{anchor:'middle'});
  rotLabel(g,361,185,'-Log10(p-value)');
}
// ---------- Panel C ----------
{
  const g = svg.append('g');
  const r = d3.scaleSqrt().domain([0,1156]).range([0,57.5]);
  const cx = [132,211], cy = 490;
  const r1 = r(vennSetSizes[0]), r2 = r(vennSetSizes[1]);
  svg.append('defs').append('clipPath').attr('id','c1').append('circle').attr('cx',cx[0]).attr('cy',cy).attr('r',r1);
  g.append('circle').attr('cx',cx[0]).attr('cy',cy).attr('r',r1).attr('fill',C.venn);
  g.append('circle').attr('cx',cx[1]).attr('cy',cy).attr('r',r2).attr('fill',C.venn);
  g.append('circle').attr('cx',cx[1]).attr('cy',cy).attr('r',r2).attr('fill',C.vennO).attr('clip-path','url(#c1)');
  txt(g,132,491.5,String(vennRegionCounts[0]),{anchor:'middle'});
  txt(g,179,492.5,String(vennRegionCounts[1]),{anchor:'middle'});
  txt(g,218,493,String(vennRegionCounts[2]),{anchor:'middle'});
  txt(g,88,412.5,vennSetNames[0],{anchor:'middle',fill:C.redT});
  txt(g,88,426.5,`(${vennSetSizes[0]} proteins)`,{anchor:'middle',fill:C.redT});
  txt(g,262,432.5,vennSetNames[1],{anchor:'middle',fill:C.redT});
  txt(g,262,446.5,`(${vennSetSizes[1]} proteins)`,{anchor:'middle',fill:C.redT});
}
// ---------- Panel D ----------
{
  const g = svg.append('g');
  const x = d3.scaleLinear().domain([-5.94,6.29]).range([49,329]);
  const y = d3.scaleLinear().domain([-5.67,8.54]).range([883,603]);
  axes(g,x,y,{xt:dXTicks,yt:dYTicks,rot:5,xts:4,xp:2});
  dots(g,expand(dGreyRows),x,y,{fill:'#a6a6a6',r:R_DENSE_D});
  dots(g,dGreyOut,x,y,{fill:'#a6a6a6'});
  g.append('line').attr('x1',x(0)).attr('x2',x(0)).attr('y1',603).attr('y2',883)
   .attr('stroke','#444').attr('stroke-width',0.9).attr('stroke-dasharray','1.2,1.8');
  g.append('line').attr('x1',49).attr('x2',329).attr('y1',y(0)).attr('y2',y(0))
   .attr('stroke','#444').attr('stroke-width',0.9).attr('stroke-dasharray','1.2,1.8');
  dots(g,dRed,x,y,{fill:C.red});
  named(g,dNamed,x,y,dLab);
  txt(g,185,909,'Log2Difference (MTJ vs M/T)',{anchor:'middle'});
  rotLabel(g,33,743,'Log2Difference (MTJ vs T)');
}
// ---------- Panel E ----------
{
  const g = svg.append('g');
  const x = d3.scaleLinear().domain([1,25]).range([403,706]);
  const y = d3.scaleLog().domain([1e-9,1e-1]).range([392,877]);
  const {gy} = axes(g,x,y,{xt:eXTicks,yt:eYTicks,xts:4,xp:4,xAt:877,yf:()=>''});
  gy.selectAll('.tick text').each(function(d){
    const t = d3.select(this); t.text('');
    t.append('tspan').text('10');
    t.append('tspan').attr('dy',-5).attr('font-size',8).text(String(Math.round(Math.log10(d))));
  });
  const pts = uniTerms.map((n,i)=>({n,x:uniEnrich[i],p:uniP[i],c:C.uni}))
    .concat(goTerms.map((n,i)=>({n,x:goEnrich[i],p:goP[i],c:C.gocc})));
  pts.forEach(d=>{
    const L = eLab[d.n]; if(!L||!L.ln) return;
    const px=x(d.x), py=y(d.p);
    g.append('line').attr('x1',px+L.ln[0]).attr('y1',py+L.ln[1]).attr('x2',px+L.ln[2]).attr('y2',py+L.ln[3])
     .attr('stroke','#222').attr('stroke-width',0.7);
  });
  g.append('g').selectAll('circle').data(pts).join('circle')
   .attr('cx',d=>x(d.x)).attr('cy',d=>y(d.p)).attr('r',R_DOT).attr('fill',d=>d.c);
  pts.forEach(d=>{
    const L = eLab[d.n]; const px=x(d.x), py=y(d.p);
    const lines = L.lines || [d.n];
    const t = g.append('text').attr('font-size',10).attr('fill','#1a1a1a')
      .attr('text-anchor',L.anchor||'start');
    lines.forEach((s,i)=> t.append('tspan').attr('x',px+L.dx).attr('y',py+L.dy+i*(L.lead||8)).text(s));
  });
  // legend
  g.append('circle').attr('cx',650).attr('cy',413).attr('r',R_DOT).attr('fill',C.gocc);
  txt(g,662,417,'GOCC');
  g.append('circle').attr('cx',650).attr('cy',429).attr('r',R_DOT).attr('fill',C.uni);
  txt(g,662,433,'Uniprot Keywords');
  txt(g,545,907,'Enrichment factor',{anchor:'middle'});
  rotLabel(g,370,632,'FDR-corrected p-value');
}
panelLabel(3,12,'A'); panelLabel(355,12,'B'); panelLabel(2,389,'C'); panelLabel(3,593,'D'); panelLabel(354,389,'E');
</script>
</body></html>
